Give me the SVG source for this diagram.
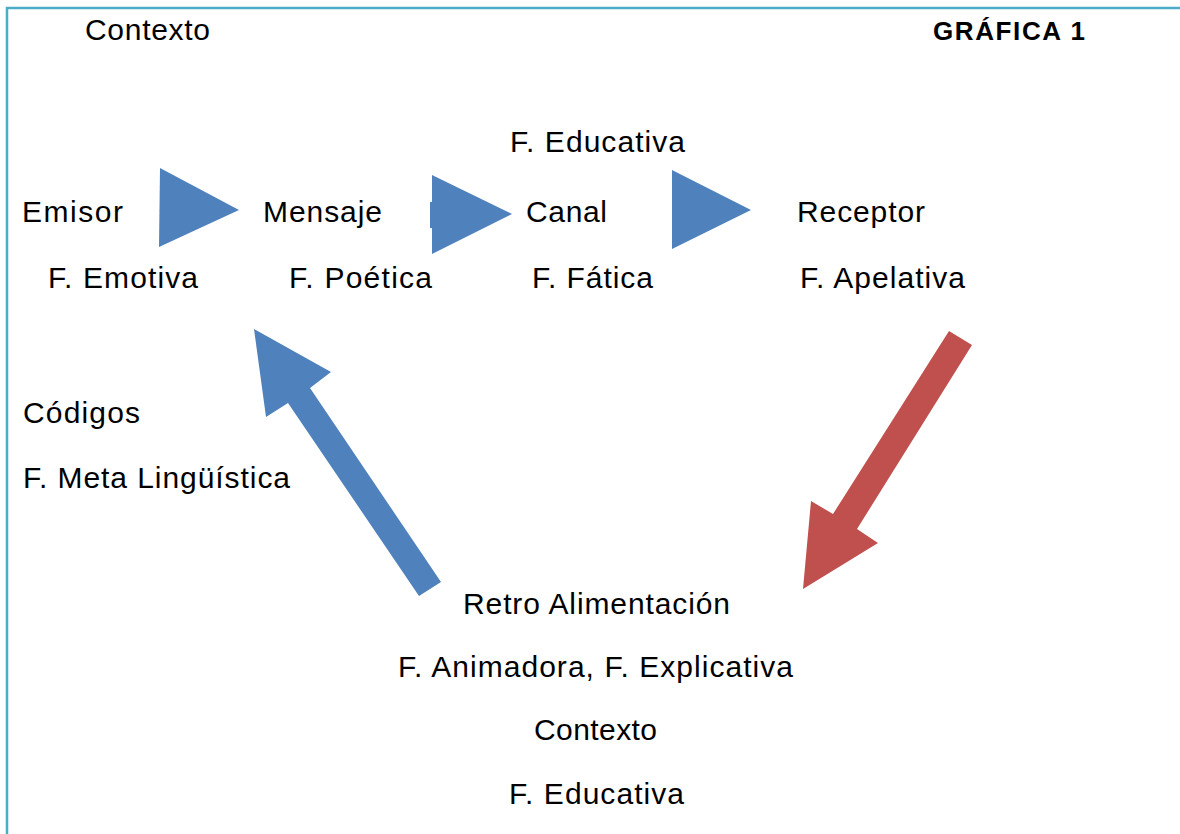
<svg xmlns="http://www.w3.org/2000/svg" width="1180" height="834" viewBox="0 0 1180 834">
<style>
.t{font-family:"Liberation Sans",Arial,sans-serif;font-size:30px;fill:#000}
.b{font-family:"Liberation Sans",Arial,sans-serif;font-size:26px;font-weight:bold;fill:#000}
.blue{fill:#4F81BD}
.red{fill:#C0504D}
.frame{stroke:#4BACC6;stroke-width:2.5;fill:none}
</style>
<rect width="1180" height="834" fill="#fff"/>
<path class="frame" d="M7,834 V8 H1180"/>
<g id="title"><text class="b" x="933" y="40" textLength="152" lengthAdjust="spacing">GRÁFICA 1</text></g>
<g id="contexto-top"><text class="t" x="85" y="40" textLength="125" lengthAdjust="spacing">Contexto</text></g>
<g id="educativa-top"><text class="t" x="510" y="152" textLength="175" lengthAdjust="spacing">F. Educativa</text></g>
<g id="emisor">
<text class="t" x="22" y="222" textLength="101" lengthAdjust="spacing">Emisor</text>
<text class="t" x="48" y="288" textLength="150" lengthAdjust="spacing">F. Emotiva</text>
</g>
<g id="mensaje">
<text class="t" x="263" y="222" textLength="119" lengthAdjust="spacing">Mensaje</text>
<text class="t" x="289" y="288" textLength="143" lengthAdjust="spacing">F. Poética</text>
</g>
<g id="canal">
<text class="t" x="526" y="222" textLength="81" lengthAdjust="spacing">Canal</text>
<text class="t" x="532" y="288" textLength="121" lengthAdjust="spacing">F. Fática</text>
</g>
<g id="receptor">
<text class="t" x="797" y="222" textLength="128" lengthAdjust="spacing">Receptor</text>
<text class="t" x="800" y="288" textLength="165" lengthAdjust="spacing">F. Apelativa</text>
</g>
<g id="codigos">
<text class="t" x="23" y="423" textLength="117" lengthAdjust="spacing">Códigos</text>
<text class="t" x="23" y="488" textLength="267" lengthAdjust="spacing">F. Meta Lingüística</text>
</g>
<g id="retro">
<text class="t" x="463" y="614" textLength="267" lengthAdjust="spacing">Retro Alimentación</text>
<text class="t" x="398" y="677" textLength="395" lengthAdjust="spacing">F. Animadora, F. Explicativa</text>
<text class="t" x="534" y="740" textLength="123" lengthAdjust="spacing">Contexto</text>
<text class="t" x="509" y="804" textLength="175" lengthAdjust="spacing">F. Educativa</text>
</g>
<g id="connectors">
<polygon class="blue" points="160,168 239,210 159,247"/>
<polygon class="blue" points="432,175 512,214 432,254 432,228 430,228 430,202 432,202"/>
<polygon class="blue" points="672,170 751,210 672,249"/>
<polygon class="blue" points="254,329 331,372 310,388 441,582 419,596 288,403 266,417"/>
<polygon class="red" points="949,331 972,345 857,529 878,543 803,589 811,501 833,514"/>
</g>
</svg>
